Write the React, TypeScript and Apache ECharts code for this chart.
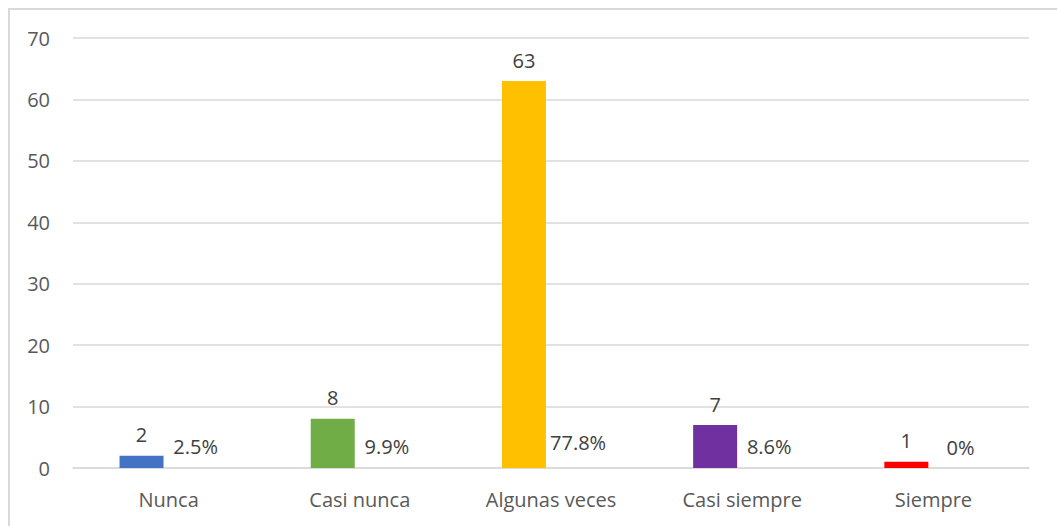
import React, { useEffect, useRef } from "react";
import * as echarts from "echarts";

const categories = ["Nunca", "Casi nunca", "Algunas veces", "Casi siempre", "Siempre"];
const counts = [2, 8, 63, 7, 1];
const shares = [0.025, 0.099, 0.778, 0.086, 0];
const barColors = ["#4472C4", "#70AD47", "#FFC000", "#7030A0", "#FF0000"];
const yTicks = { min: 0, max: 70, interval: 10 };

const FONT = "'Open Sans', 'Noto Sans', sans-serif";
const FS = 20;

export default function App() {
  const ref = useRef<HTMLDivElement>(null);
  useEffect(() => {
    if (!ref.current) return;
    const chart = echarts.init(ref.current, undefined, { renderer: "svg" });
    chart.setOption({
      animation: false,
      textStyle: { fontFamily: FONT },
      grid: { left: 63, right: 39, top: 28, bottom: 70, containLabel: false },
      xAxis: {
        type: "category",
        data: categories,
        axisLine: { lineStyle: { color: "#d9d9d9", width: 1.5 } },
        axisTick: { show: false },
        axisLabel: { color: "#595959", fontSize: FS, fontFamily: FONT, margin: 21 },
      },
      yAxis: {
        type: "value",
        min: yTicks.min,
        max: yTicks.max,
        interval: yTicks.interval,
        axisLine: { show: false },
        axisTick: { show: false },
        splitLine: { lineStyle: { color: "#d9d9d9", width: 1.5 } },
        axisLabel: { color: "#595959", fontSize: FS, fontFamily: FONT, margin: 23 },
      },
      series: [
        {
          type: "bar",
          data: counts.map((v, i) => ({ value: v, itemStyle: { color: barColors[i] } })),
          barWidth: 44,
          barGap: "23%",
          label: {
            show: true,
            position: "top",
            distance: 11,
            color: "#404040",
            fontSize: FS,
            fontFamily: FONT,
          },
        },
        {
          type: "bar",
          data: shares,
          barWidth: 44,
          itemStyle: { color: "rgba(0,0,0,0)" },
          label: {
            show: true,
            position: "top",
            distance: 11,
            color: "#404040",
            fontSize: FS,
            fontFamily: FONT,
            formatter: (p: any) => {
              const v = p.value as number;
              return v === 0 ? "0%" : (v * 100).toFixed(1) + "%";
            },
          },
        },
      ],
    });
    return () => chart.dispose();
  }, []);
  return (
    <div
      style={{
        position: "fixed",
        left: 8,
        top: 8,
        width: 1060,
        height: 530,
        borderLeft: "2px solid #d9d9d9",
        borderTop: "2px solid #d9d9d9",
        boxSizing: "border-box",
        background: "#fff",
      }}
    >
      <div ref={ref} style={{ width: 1058, height: 528 }} />
    </div>
  );
}
